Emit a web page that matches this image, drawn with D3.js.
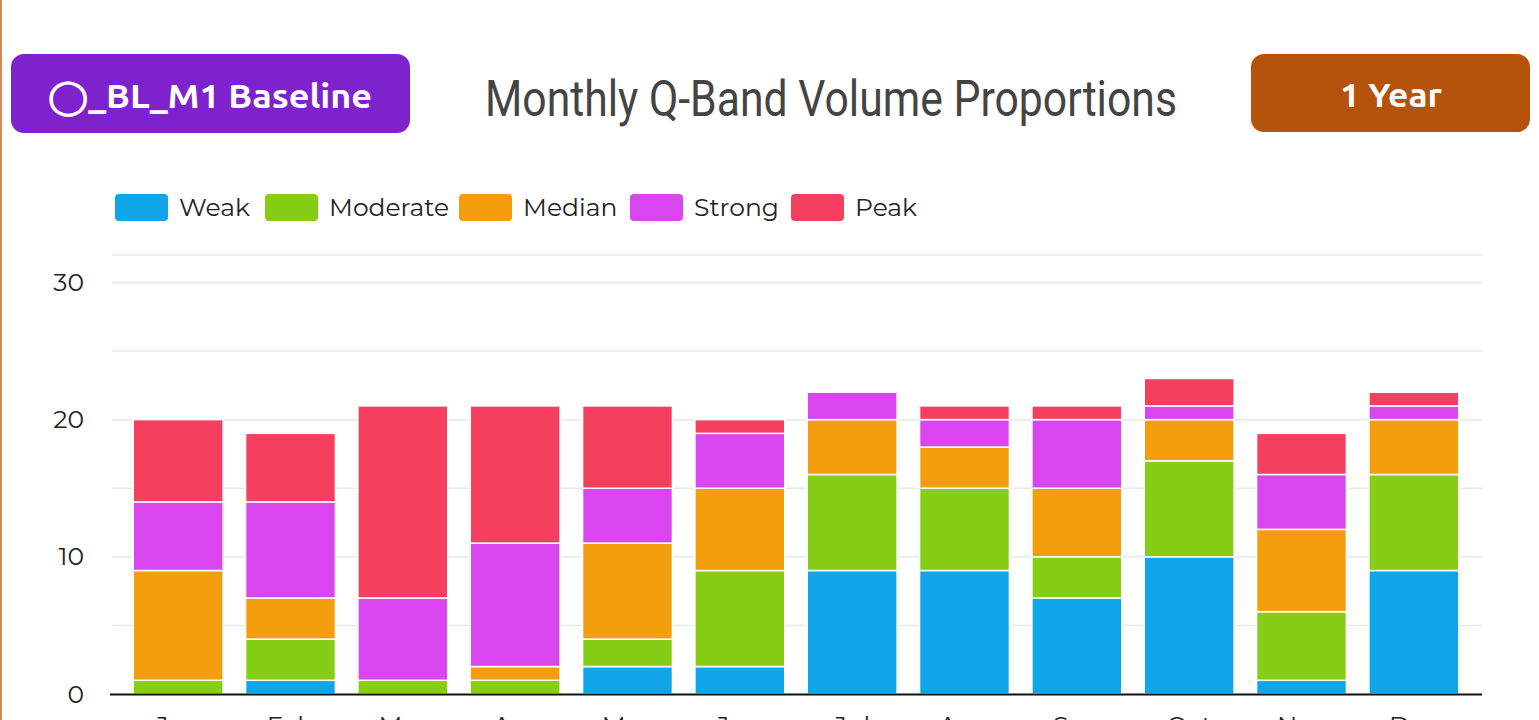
<!DOCTYPE html>
<html>
<head>
<meta charset="utf-8">
<script src="https://cdn.jsdelivr.net/npm/d3@7"></script>
<style>
  html, body { margin: 0; padding: 0; background: #fff; overflow: hidden; }
  svg { display: block; }
</style>
</head>
<body>
<svg width="1539" height="720"></svg>
<script>
// chart data
const months = ["Jan", "Feb", "Mar", "Apr", "May", "Jun", "Jul", "Aug", "Sep", "Oct", "Nov", "Dec"];
const bands = ["Weak", "Moderate", "Median", "Strong", "Peak"];
const weak     = [0, 1, 0, 0, 2, 2, 9, 9, 7, 10, 1, 9];
const moderate = [1, 3, 1, 1, 2, 7, 7, 6, 3, 7, 5, 7];
const median   = [8, 3, 0, 1, 7, 6, 4, 3, 5, 3, 6, 4];
const strong   = [5, 7, 6, 9, 4, 4, 2, 2, 5, 1, 4, 1];
const peak     = [6, 5, 14, 10, 6, 1, 0, 1, 1, 2, 3, 1];
const yTicks = [0, 10, 20, 30];
const bandColors = ["#10a5e8", "#86cd16", "#f49e0d", "#d946ef", "#f43f5e"];

const rows = months.map((m, i) => ({
    month: m,
    Weak: weak[i],
    Moderate: moderate[i],
    Median: median[i],
    Strong: strong[i],
    Peak: peak[i]
}));

const svg = d3.select("svg");

// left accent line
svg.append("rect")
    .attr("x", 0).attr("y", 0)
    .attr("width", 2).attr("height", 720)
    .attr("fill", "#d08a55");

// header buttons
const btnFont = "Ubuntu, 'Open Sans', Lato, sans-serif";

svg.append("rect")
    .attr("x", 11).attr("y", 54)
    .attr("width", 399).attr("height", 79)
    .attr("rx", 13)
    .attr("fill", "#7e22ce");
svg.append("text")
    .attr("x", 210).attr("y", 108)
    .attr("text-anchor", "middle")
    .attr("fill", "#fff")
    .attr("font-family", btnFont)
    .attr("font-weight", 700)
    .attr("font-size", 34)
    .attr("textLength", 324)
    .attr("lengthAdjust", "spacingAndGlyphs")
    .text("◯_BL_M1 Baseline");

svg.append("rect")
    .attr("x", 1251).attr("y", 54)
    .attr("width", 279).attr("height", 78)
    .attr("rx", 13)
    .attr("fill", "#b5530c");
svg.append("text")
    .attr("x", 1391).attr("y", 107)
    .attr("text-anchor", "middle")
    .attr("fill", "#fff")
    .attr("font-family", btnFont)
    .attr("font-weight", 700)
    .attr("font-size", 34)
    .attr("textLength", 102)
    .attr("lengthAdjust", "spacingAndGlyphs")
    .text("1 Year");

// title
svg.append("text")
    .attr("x", 831).attr("y", 116)
    .attr("text-anchor", "middle")
    .attr("fill", "#444")
    .attr("font-family", "Roboto, sans-serif")
    .attr("font-size", 50)
    .attr("textLength", 692)
    .attr("lengthAdjust", "spacingAndGlyphs")
    .text("Monthly Q-Band Volume Proportions");

// legend
const labelFont = "Montserrat, Lato, 'Noto Sans', sans-serif";
const legendX = [115, 265, 459, 630, 791];
const legend = svg.append("g");
bands.forEach((b, i) => {
    legend.append("rect")
        .attr("x", legendX[i]).attr("y", 194)
        .attr("width", 53).attr("height", 27)
        .attr("rx", 4)
        .attr("fill", bandColors[i]);
    legend.append("text")
        .attr("x", legendX[i] + 64).attr("y", 216)
        .attr("fill", "#222")
        .attr("font-family", labelFont)
        .attr("font-size", 25)
        .text(b);
});

// scales
const x = d3.scaleBand()
    .domain(months)
    .range([122, 1470])
    .paddingInner(0.2)
    .paddingOuter(0.1);

const y = d3.scaleLinear()
    .domain([0, 32])
    .range([694, 255]);

// gridlines
svg.append("g")
    .selectAll("line")
    .data(d3.range(5, 35, 5).concat([32]))
    .join("line")
    .attr("x1", 112).attr("x2", 1482)
    .attr("y1", d => y(d)).attr("y2", d => y(d))
    .attr("stroke", "#e8e8e8")
    .attr("stroke-width", 1.5);

// y axis labels
const yAxis = svg.append("g")
    .attr("transform", "translate(84,0)")
    .call(d3.axisLeft(y).tickValues(yTicks).tickSize(0).tickPadding(0));
yAxis.select(".domain").remove();
yAxis.selectAll("text")
    .attr("font-family", labelFont)
    .attr("font-size", 25)
    .attr("fill", "#222");

// stacked bars
const stack = d3.stack().keys(bands)(rows);
const color = d3.scaleOrdinal().domain(bands).range(bandColors);

svg.append("g")
    .selectAll("g")
    .data(stack)
    .join("g")
    .attr("fill", d => color(d.key))
    .selectAll("rect")
    .data(d => d.filter(s => s[1] > s[0]))
    .join("rect")
    .attr("x", d => x(d.data.month))
    .attr("y", d => y(d[1]))
    .attr("width", x.bandwidth())
    .attr("height", d => y(d[0]) - y(d[1]))
    .attr("stroke", "#fff")
    .attr("stroke-width", 1.5);

// x axis (labels run past the bottom edge, as in the source)
const xAxis = svg.append("g")
    .attr("transform", "translate(0,694)")
    .call(d3.axisBottom(x).tickSize(0).tickPadding(22));
xAxis.select(".domain")
    .attr("d", "M110,0.5H1482")
    .attr("stroke", "#111")
    .attr("stroke-width", 2);
xAxis.selectAll("text")
    .attr("font-family", labelFont)
    .attr("font-size", 25)
    .attr("fill", "#222");
</script>
</body>
</html>
